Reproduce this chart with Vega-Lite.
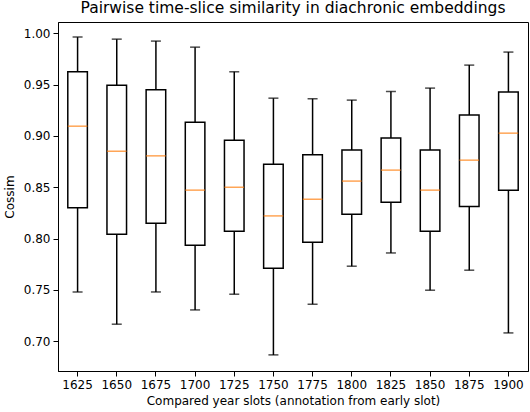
{
  "$schema": "https://vega.github.io/schema/vega-lite/v6.json",
  "autosize": {"type": "none"},
  "padding": {"left": 58, "top": 22, "right": 2, "bottom": 41},
  "width": 470,
  "height": 349,
  "title": {
    "text": "Pairwise time-slice similarity in diachronic embeddings",
    "font": "DejaVu Sans",
    "fontSize": 15.5,
    "fontWeight": "normal",
    "color": "black",
    "anchor": "middle",
    "offset": 6
  },
  "data": {
    "values": [
      {"slot": "1625", "lower": 0.748, "q1": 0.830, "median": 0.9095, "q3": 0.9625, "upper": 0.9963},
      {"slot": "1650", "lower": 0.7166, "q1": 0.8043, "median": 0.8852, "q3": 0.9495, "upper": 0.9943},
      {"slot": "1675", "lower": 0.748, "q1": 0.815, "median": 0.8806, "q3": 0.9449, "upper": 0.9924},
      {"slot": "1700", "lower": 0.7305, "q1": 0.7936, "median": 0.8472, "q3": 0.9134, "upper": 0.9865},
      {"slot": "1725", "lower": 0.7458, "q1": 0.8072, "median": 0.850, "q3": 0.8959, "upper": 0.9625},
      {"slot": "1750", "lower": 0.6867, "q1": 0.7711, "median": 0.8221, "q3": 0.8725, "upper": 0.9368},
      {"slot": "1775", "lower": 0.7361, "q1": 0.7965, "median": 0.8384, "q3": 0.8816, "upper": 0.9362},
      {"slot": "1800", "lower": 0.7731, "q1": 0.8238, "median": 0.856, "q3": 0.8862, "upper": 0.9349},
      {"slot": "1825", "lower": 0.786, "q1": 0.8355, "median": 0.8667, "q3": 0.8981, "upper": 0.9433},
      {"slot": "1850", "lower": 0.7497, "q1": 0.8072, "median": 0.8472, "q3": 0.8862, "upper": 0.9466},
      {"slot": "1875", "lower": 0.7692, "q1": 0.8312, "median": 0.8764, "q3": 0.9203, "upper": 0.969},
      {"slot": "1900", "lower": 0.7081, "q1": 0.8472, "median": 0.9027, "q3": 0.9427, "upper": 0.9817}
    ]
  },
  "encoding": {
    "x": {
      "field": "slot",
      "type": "nominal",
      "sort": null,
      "title": "Compared year slots (annotation from early slot)",
      "scale": {"type": "band", "paddingInner": 0, "paddingOuter": 0},
      "axis": {"labelAngle": 0, "titlePadding": 5}
    }
  },
  "layer": [
    {
      "mark": {"type": "rule", "color": "black", "strokeWidth": 1.5},
      "encoding": {
        "y": {
          "field": "lower",
          "type": "quantitative",
          "title": "Cossim",
          "scale": {"domain": [0.671, 1.011], "nice": false, "zero": false},
          "axis": {"values": [0.70, 0.75, 0.80, 0.85, 0.90, 0.95, 1.00], "format": ".2f", "titlePadding": 7}
        },
        "y2": {"field": "upper"}
      }
    },
    {
      "mark": {"type": "bar", "fill": "white", "stroke": "black", "strokeWidth": 1.5, "width": {"band": 0.5}},
      "encoding": {
        "y": {"field": "q1", "type": "quantitative"},
        "y2": {"field": "q3"}
      }
    },
    {
      "mark": {"type": "tick", "color": "#ff7f0e", "size": 19.6, "thickness": 1.5, "orient": "horizontal"},
      "encoding": {"y": {"field": "median", "type": "quantitative"}}
    },
    {
      "mark": {"type": "tick", "color": "black", "size": 10, "thickness": 1.5, "orient": "horizontal"},
      "encoding": {"y": {"field": "lower", "type": "quantitative"}}
    },
    {
      "mark": {"type": "tick", "color": "black", "size": 10, "thickness": 1.5, "orient": "horizontal"},
      "encoding": {"y": {"field": "upper", "type": "quantitative"}}
    }
  ],
  "config": {
    "view": {"stroke": "black", "strokeWidth": 1},
    "axis": {
      "grid": false,
      "domainColor": "black",
      "tickColor": "black",
      "tickSize": 5,
      "labelPadding": 3,
      "labelFont": "DejaVu Sans",
      "labelFontSize": 12,
      "labelColor": "black",
      "titleFont": "DejaVu Sans",
      "titleFontSize": 12,
      "titleFontWeight": "normal",
      "titleColor": "black"
    }
  }
}
